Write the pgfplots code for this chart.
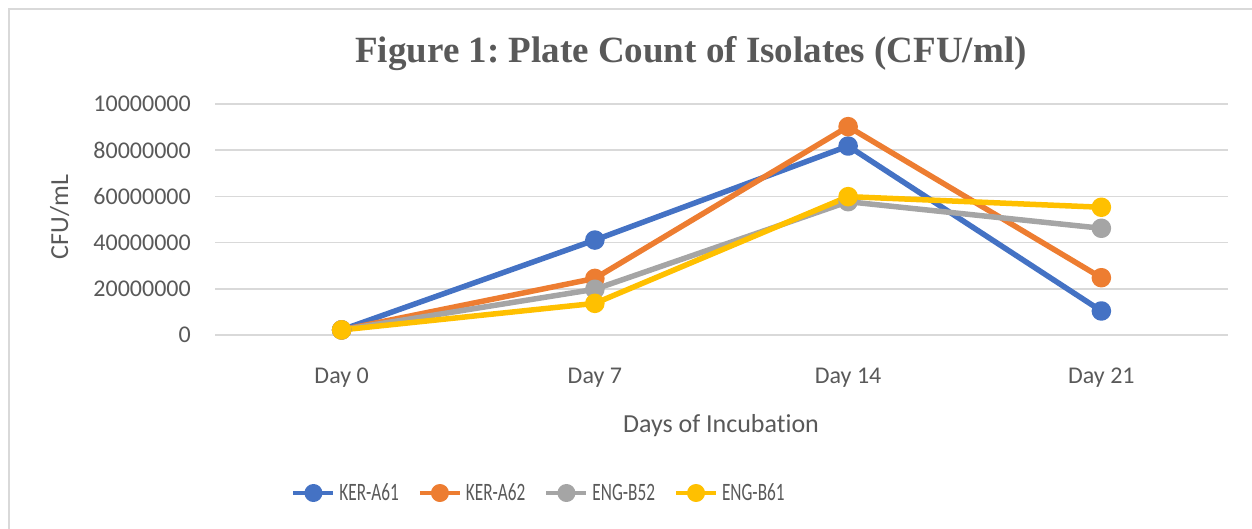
\documentclass[border=0pt]{standalone}
\usepackage{fontspec}
\setmainfont{Carlito}[Ligatures={NoCommon}]
\newfontfamily\titlefont{Liberation Serif}
\newfontfamily\legendfont{Carlito}[FakeStretch=0.69]
\usepackage{pgfplots}
\pgfplotsset{compat=1.18}
\frenchspacing
\definecolor{txt}{HTML}{595959}
\definecolor{gridc}{HTML}{D9D9D9}
\definecolor{cA}{HTML}{4472C4}
\definecolor{cB}{HTML}{ED7D31}
\definecolor{cC}{HTML}{A5A5A5}
\definecolor{cD}{HTML}{FFC000}
\begin{document}
\begin{tikzpicture}
\path[use as bounding box] (0,0) rectangle (1252bp,529bp);
\draw[gridc, line width=2.5bp] (9bp,-20bp) rectangle (1280bp,520bp);
\node[anchor=base, text=txt, font=\titlefont\bfseries\fontsize{37bp}{44bp}\selectfont] at (691bp,466bp) {Figure 1: Plate Count of Isolates (CFU/ml)};
\node[anchor=base, text=txt, font=\fontsize{26bp}{30bp}\selectfont] at (721bp,96bp) {Days of Incubation};
\node[anchor=base, rotate=90, text=txt, font=\fontsize{26bp}{30bp}\selectfont] at (68bp,312bp) {CFU/mL};
\begin{axis}[at={(215bp,194bp)}, anchor=south west, scale only axis,
  width=1013bp, height=231bp,
  xmin=-0.5, xmax=3.5, ymin=0, ymax=100000000,
  xtick={0,1,2,3}, xticklabels={Day 0,Day 7,Day 14,Day 21},
  ytick={0,20000000,40000000,60000000,80000000,100000000},
  yticklabels={0,20000000,40000000,60000000,80000000,10000000},
  scaled y ticks=false,
  /pgf/number format/assume math mode=true,
  major tick length=0pt,
  axis line style={draw=none},
  ymajorgrids, grid style={gridc, line width=1.5bp},
  clip=false,
  xticklabel style={anchor=base, yshift=-48bp, inner sep=0pt, text=txt, font=\fontsize{24bp}{28bp}\selectfont},
  yticklabel style={anchor=east, xshift=-24bp, inner sep=0pt, text=txt, font=\fontsize{24bp}{28bp}\selectfont},
  every axis plot/.append style={line width=5.5bp, line join=round, mark=*, mark size=7bp, mark options={solid}},
  legend style={at={(axis description cs:0.3189,-0.684)}, anchor=center, draw=none, fill=none, inner sep=0pt,
    font=\legendfont\fontsize{25bp}{28bp}\selectfont, text=txt, legend columns=4,
    nodes={inner sep=0pt},
    /tikz/every odd column/.append style={column sep=4bp},
    /tikz/every even column/.append style={column sep=19bp}},
  legend image code/.code={\draw[mark repeat=2,mark phase=2,#1,line width=4bp] plot coordinates {(0bp,0bp) (20bp,0bp) (40bp,0bp)};}
]
\addplot[color=cA, mark options={fill=cA}] coordinates {(0,2200000) (1,41100000) (2,81800000) (3,10400000)};
\addlegendentry{KER-A61}
\addplot[color=cB, mark options={fill=cB}] coordinates {(0,2200000) (1,24500000) (2,90200000) (3,24800000)};
\addlegendentry{KER-A62}
\addplot[color=cC, mark options={fill=cC}] coordinates {(0,2200000) (1,19800000) (2,57700000) (3,46200000)};
\addlegendentry{ENG-B52}
\addplot[color=cD, mark options={fill=cD}] coordinates {(0,2200000) (1,13700000) (2,59900000) (3,55300000)};
\addlegendentry{ENG-B61}
\end{axis}
\end{tikzpicture}
\end{document}
